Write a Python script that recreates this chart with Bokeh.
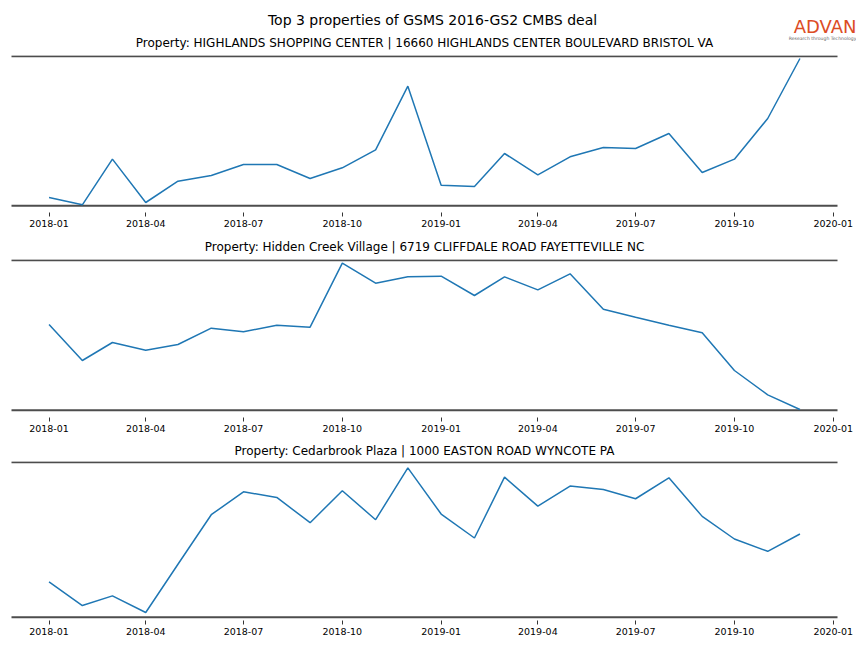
import pandas as pd
from bokeh.plotting import figure
from bokeh.layouts import column
from bokeh.models import Range1d, FixedTicker, DatetimeTickFormatter, Label
from bokeh.embed import file_html
from bokeh.resources import INLINE

# ---------------- data ----------------
months = ["2018-01", "2018-02", "2018-03", "2018-04", "2018-05", "2018-06",
          "2018-07", "2018-08", "2018-09", "2018-10", "2018-11", "2018-12",
          "2019-01", "2019-02", "2019-03", "2019-04", "2019-05", "2019-06",
          "2019-07", "2019-08", "2019-09", "2019-10", "2019-11", "2019-12"]

highlands = [25, 3, 140, 10, 74, 91, 124, 124, 82, 114, 168, 359,
             62, 58, 157, 93, 147, 175, 172, 217, 100, 140, 262, 442]
hidden_creek = [257, 149, 203, 180, 197, 246, 235, 255, 249, 441, 381, 400,
                402, 344, 400, 361, 409, 303, 279, 255, 232, 119, 46, 2]
cedarbrook = [106, 35, 64, 14, 159, 308, 377, 360, 284, 380, 293, 449,
              310, 238, 421, 334, 394, 384, 356, 419, 303, 235, 198, 250]

panel_titles = [
    "Property: HIGHLANDS SHOPPING CENTER | 16660 HIGHLANDS CENTER BOULEVARD BRISTOL VA",
    "Property: Hidden Creek Village | 6719 CLIFFDALE ROAD FAYETTEVILLE NC",
    "Property: Cedarbrook Plaza | 1000 EASTON ROAD WYNCOTE PA",
]
suptitle = "Top 3 properties of GSMS 2016-GS2 CMBS deal"
tick_labels = ["2018-01", "2018-04", "2018-07", "2018-10", "2019-01",
               "2019-04", "2019-07", "2019-10", "2020-01"]

# axis limits (lower, upper) and spine levels per panel
y_limits = [(-20, 451), (-22, 452), (-10, 468)]
spine_levels = [(0, 449), (0, 450), (0, 466)]

# ---------------- style ----------------
FONT = "DejaVu Sans"
W = 856                     # full page width used by every figure frame
AX_LEFT, AX_W = 11, 826     # the matplotlib-like axes box inside the frame
LINE_COLOR = "#1f77b4"
SPINE_COLOR = "#4d4d4d"

dates = pd.to_datetime(months)
tick_ms = [float(pd.Timestamp(t).value // 10**6) for t in tick_labels]
span_days = (dates[-1] - dates[0])
x_start = float((dates[0] - 0.05 * span_days).value // 10**6)   # 5% margins
x_end = float((dates[-1] + 0.05 * span_days).value // 10**6)
ms_per_px = (x_end - x_start) / AX_W
view_start = x_start - AX_LEFT * ms_per_px
view_end = view_start + W * ms_per_px


def strip(h, items):
    p = figure(frame_width=W, frame_height=h,
               x_range=Range1d(0, W), y_range=Range1d(h, 0),
               output_backend="svg", toolbar_location=None,
               min_border_left=0, min_border_right=0,
               min_border_top=0, min_border_bottom=0,
               x_axis_location=None, y_axis_location=None)
    p.grid.visible = False
    p.outline_line_color = None
    for (x, y, txt, size, color, align) in items:
        p.add_layout(Label(x=x, y=y, text=txt, text_font=FONT,
                           text_font_size=f"{size}px", text_color=color,
                           text_align=align, text_baseline="middle"))
    return p


def panel(vals, ylim, spines, frame_h, top_b, bottom_b):
    p = figure(frame_width=W, frame_height=frame_h, x_axis_type="datetime",
               x_range=Range1d(view_start, view_end), y_range=Range1d(*ylim),
               y_axis_location=None, output_backend="svg", toolbar_location=None,
               min_border_left=0, min_border_right=0,
               min_border_top=top_b, min_border_bottom=bottom_b)
    p.grid.visible = False
    p.outline_line_color = None
    ax = p.xaxis[0]
    ax.ticker = FixedTicker(ticks=tick_ms)
    fmt = "%Y-%m"
    ax.formatter = DatetimeTickFormatter(years=fmt, months=fmt, days=fmt,
                                         hours=fmt, minutes=fmt, seconds=fmt,
                                         milliseconds=fmt, microseconds=fmt,
                                         hourmin=fmt, minsec=fmt)
    ax.axis_line_color = None
    ax.major_tick_in = 0
    ax.major_tick_out = 4
    ax.major_tick_line_color = "black"
    ax.major_tick_line_width = 0.8
    ax.minor_tick_line_color = None
    ax.major_label_text_font = FONT
    ax.major_label_text_font_size = "9.5px"
    ax.major_label_text_color = "black"
    ax.major_label_standoff = 3
    # top and bottom spines spanning the axes x-limits
    p.segment(x0=[x_start] * len(spines), x1=[x_end] * len(spines),
              y0=list(spines), y1=list(spines),
              line_color=SPINE_COLOR, line_width=2)
    p.line(dates, vals, line_color=LINE_COLOR, line_width=1.5)
    return p


header = strip(52, [
    (432, 19, suptitle, 14, "black", "center"),
    (424, 42, panel_titles[0], 12, "black", "center"),
    (856, 26, "ADVAN", 18, "#dc4c24", "right"),
    (856, 38, "Research through Technology", 4.6, "#666666", "right"),
])
p1 = panel(highlands, y_limits[0], spine_levels[0], 157, 3, 24)
t2 = strip(21, [(424, 10, panel_titles[1], 12, "black", "center")])
p2 = panel(hidden_creek, y_limits[1], spine_levels[1], 158, 2, 24)
t3 = strip(18, [(424, 9, panel_titles[2], 12, "black", "center")])
p3 = panel(cedarbrook, y_limits[2], spine_levels[2], 159, 2, 24)

layout = column(header, p1, t2, p2, t3, p3, spacing=0)

with open("out.html", "w") as f:
    f.write(file_html(layout, INLINE))
